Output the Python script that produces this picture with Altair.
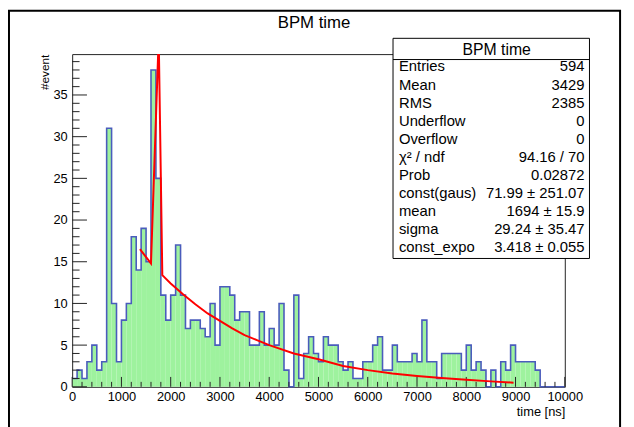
import altair as alt
import pandas as pd

# ---------------- data ----------------
counts = [1, 2, 1, 3, 5, 2, 3, 31, 10, 3,
          8, 10, 18, 14, 19, 15, 38, 25, 11, 8,
          11, 17, 11, 7, 8, 8, 7, 6, 10, 5,
          12, 12, 11, 8, 9, 9, 5, 5, 9, 5,
          7, 5, 10, 2, 0, 11, 1, 4, 6, 4,
          3, 6, 5, 5, 3, 2, 3, 1, 1, 3,
          3, 5, 6, 2, 2, 5, 3, 3, 3, 4,
          3, 8, 3, 3, 1, 4, 4, 4, 4, 2,
          5, 2, 3, 2, 0, 2, 0, 3, 2, 5,
          3, 3, 3, 3, 2, 0, 0, 0, 0, 0]
x_min, x_max = 0, 10000
bin_width = 100

fit_x = [1376, 1600, 1745, 1762, 1830, 2000, 2250, 2500, 2750, 3000, 3250, 3500,
         3750, 4000, 4500, 5000, 5500, 6000, 6500, 7000, 7500, 8000, 8500, 8960]
fit_y = [16.5, 14.8, 39.9, 39.9, 13.4, 12.4, 11.1, 9.9, 8.8, 7.9, 7.0, 6.2,
         5.6, 5.0, 4.0, 3.3, 2.5, 2.0, 1.6, 1.3, 1.05, 0.85, 0.65, 0.5]

x_major = [0, 1000, 2000, 3000, 4000, 5000, 6000, 7000, 8000, 9000, 10000]
x_minor = [v for v in range(0, 10001, 200) if v % 1000 != 0]
y_major = [0, 5, 10, 15, 20, 25, 30, 35]
y_minor = [v for v in range(1, 40) if v % 5 != 0]
y_max = 39.9

title_text = "BPM time"
x_title = "time [ns]"
y_title = "#event"

stat_names = ["Entries", "Mean", "RMS", "Underflow", "Overflow", "χ² / ndf",
              "Prob", "const(gaus)", "mean", "sigma", "const_expo"]
stat_values = ["594", "3429", "2385", "0", "0", "94.16 / 70", "0.02872",
               "71.99 ± 251.07", "1694 ± 15.9", "29.24 ± 35.47", "3.418 ± 0.055"]

# ---------------- layout ----------------
W, H = 499, 337
FONT = "Liberation Sans"

lo = [x_min + i * bin_width for i in range(len(counts))]
hist_df = pd.DataFrame({"lo": lo, "hi": [v + bin_width for v in lo], "n": counts,
                        "base": [0] * len(counts)})
step_df = pd.DataFrame({"x": lo + [x_max], "n": counts + [counts[-1]]})
fit_df = pd.DataFrame({"x": fit_x, "y": fit_y})

xs = alt.Scale(domain=[x_min, x_max], nice=False, zero=False)
ys = alt.Scale(domain=[0, y_max], nice=False)

x_axis = alt.Axis(values=x_major, format="d", ticks=False, domain=False, grid=False,
                  labelFlush=False, labelFontSize=13, labelFont=FONT, labelColor="#000",
                  labelPadding=4, title=x_title, titleAnchor="end", titleFont=FONT,
                  titleFontSize=13, titleFontWeight="normal", titleColor="#000",
                  titlePadding=2)
y_axis = alt.Axis(values=y_major, format="d", ticks=False, domain=False, grid=False,
                  labelFlush=False, labelFontSize=13, labelFont=FONT, labelColor="#000",
                  labelPadding=5, title=y_title, titleAnchor="end", titleFont=FONT,
                  titleFontSize=12, titleFontWeight="normal", titleColor="#000",
                  titlePadding=2)

bars = alt.Chart(hist_df).mark_rect(color="#9ef29e", strokeWidth=0).encode(
    x=alt.X("lo:Q", scale=xs, axis=x_axis),
    x2="hi:Q",
    y=alt.Y("n:Q", scale=ys, axis=y_axis),
    y2="base:Q",
)

outline = alt.Chart(step_df).mark_line(interpolate="step-after", color="#4a5cbc",
                                       strokeWidth=1.6).encode(
    x=alt.X("x:Q", scale=xs), y=alt.Y("n:Q", scale=ys))

fit = alt.Chart(fit_df).mark_line(color="#ff0000", strokeWidth=2, clip=True).encode(
    x=alt.X("x:Q", scale=xs), y=alt.Y("y:Q", scale=ys))

xmaj = alt.Chart(pd.DataFrame({"v": x_major})).mark_rule(color="#222", strokeWidth=1).encode(
    x=alt.X("v:Q", scale=xs), y=alt.value(H), y2=alt.value(H - 10))
xmin_ = alt.Chart(pd.DataFrame({"v": x_minor})).mark_rule(color="#222", strokeWidth=1).encode(
    x=alt.X("v:Q", scale=xs), y=alt.value(H), y2=alt.value(H - 5))
ymaj = alt.Chart(pd.DataFrame({"v": y_major})).mark_rule(color="#222", strokeWidth=1).encode(
    y=alt.Y("v:Q", scale=ys), x=alt.value(0), x2=alt.value(15))
ymin_ = alt.Chart(pd.DataFrame({"v": y_minor})).mark_rule(color="#222", strokeWidth=1).encode(
    y=alt.Y("v:Q", scale=ys), x=alt.value(0), x2=alt.value(7.5))

one = pd.DataFrame({"k": [0]})

title = alt.Chart(one).mark_text(text=title_text, font=FONT, fontSize=17, color="#000",
                                 align="center", baseline="middle").encode(
    x=alt.value(245), y=alt.value(-31))

border = alt.Chart(one).mark_rect(fill="transparent", stroke="#000", strokeWidth=2).encode(
    x=alt.value(-64), x2=alt.value(555), y=alt.value(-44), y2=alt.value(400))

box = alt.Chart(one).mark_rect(fill="#ffffff", stroke="#000", strokeWidth=1).encode(
    x=alt.value(325), x2=alt.value(524), y=alt.value(-16), y2=alt.value(207))
sep = alt.Chart(one).mark_rule(color="#000", strokeWidth=1).encode(
    x=alt.value(325), x2=alt.value(524), y=alt.value(5.5))
box_title = alt.Chart(one).mark_text(text=title_text, font=FONT, fontSize=16, color="#000",
                                     align="center", baseline="middle").encode(
    x=alt.value(430), y=alt.value(-4.5))
left_col = alt.Chart(one).mark_text(text=stat_names, font=FONT, fontSize=15, color="#000",
                                    align="left", baseline="middle", lineHeight=18.3).encode(
    x=alt.value(331), y=alt.value(12.6))
right_col = alt.Chart(one).mark_text(text=stat_values, font=FONT, fontSize=15, color="#000",
                                     align="right", baseline="middle", lineHeight=18.3).encode(
    x=alt.value(519), y=alt.value(12.6))

chart = alt.layer(
    bars, outline, xmaj, xmin_, ymaj, ymin_, fit,
    box, sep, box_title, left_col, right_col, title, border,
).properties(
    width=W, height=H,
    autosize=alt.AutoSizeParams(type="none"),
    padding={"left": 65, "top": 44, "right": 62, "bottom": 38},
    background="#ffffff",
).configure_view(stroke="#222", strokeWidth=1)

chart.save("out.html", embed_options={"renderer": "svg", "actions": False})
